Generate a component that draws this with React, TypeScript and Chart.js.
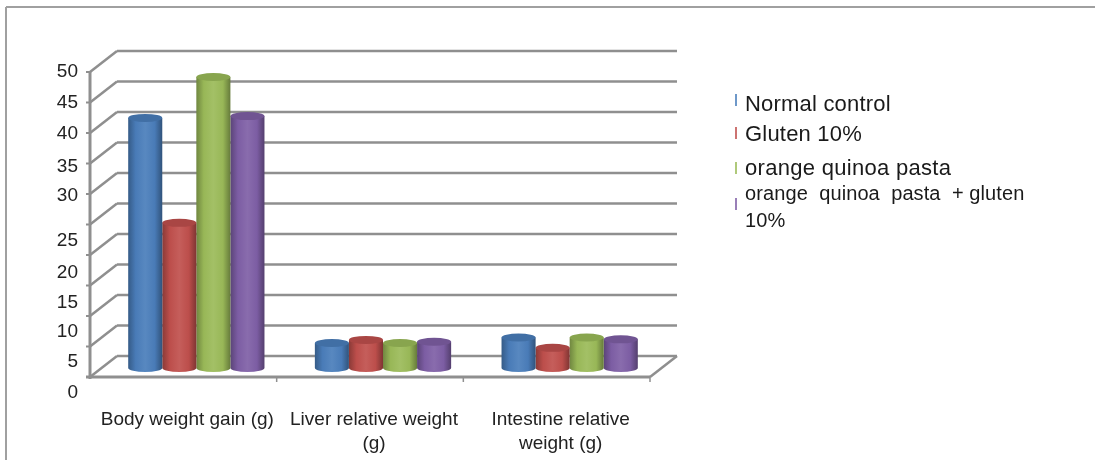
import React, { useEffect, useRef } from "react";
import { Chart, registerables } from "chart.js";

Chart.register(...registerables);

const categories = [
  "Body weight gain (g)",
  ["Liver relative weight", "(g)"],
  ["Intestine relative", "weight (g)"],
];
const normalControl = [41, 4.1, 5];
const gluten10 = [23.8, 4.6, 3.3];
const orangeQuinoaPasta = [47.7, 4.1, 5];
const orangeQuinoaGluten = [41.3, 4.3, 4.7];
const seriesNames = ["Normal control", "Gluten 10%", "orange quinoa pasta", "orange  quinoa  pasta  + gluten 10%"];
const seriesColors = ["#4a7ebb", "#c0504d", "#9bbb59", "#7f5fa6"];
const tickValues = [0, 5, 10, 15, 20, 25, 30, 35, 40, 45, 50];
const tickLabelDrop = [16, 15.5, 16, 17.5, 18, 16.5, 2, 3.5, 1, 0.5, 0];

const WALL = "#8f8f8f";
const DEPTH_X = 27;
const DEPTH_Y = 21;
const BAR_SHIFT_X = 13;
const BAR_SHIFT_Y = 9;
const UNIT_PX = 6.1;

function shade(hex: string, f: number) {
  const n = parseInt(hex.slice(1), 16);
  const c = [n >> 16, (n >> 8) & 255, n & 255].map((v) =>
    Math.round(f < 1 ? v * f : v + (255 - v) * (f - 1)),
  );
  return `rgb(${c[0]},${c[1]},${c[2]})`;
}

// Frame, back wall, side wall and floor of the 3-D box.
const boxPlugin = {
  id: "box",
  beforeDatasetsDraw(chart: any) {
    const { ctx, chartArea, scales } = chart;
    const y = scales.y;
    const left = chartArea.left;
    const right = chartArea.right;
    const line = (x1: number, y1: number, x2: number, y2: number, w = 2.5, col = WALL) => {
      ctx.strokeStyle = col;
      ctx.lineWidth = w;
      ctx.beginPath();
      ctx.moveTo(x1, y1);
      ctx.lineTo(x2, y2);
      ctx.stroke();
    };
    ctx.save();
    line(6, 7, 1095, 7, 2, "#a0a0a0");
    line(6, 7, 6, 460, 2, "#a0a0a0");
    tickValues.forEach((v) => {
      const p = y.getPixelForValue(v);
      line(left, p, left + DEPTH_X, p - DEPTH_Y, 2.5);
      line(left + DEPTH_X, p - DEPTH_Y, right + DEPTH_X, p - DEPTH_Y, 2.5);
      line(left - 4, p, left, p, 2);
    });
    const y0 = y.getPixelForValue(0);
    const y50 = y.getPixelForValue(50);
    line(left, y50, left, y0 + 2, 3);
    line(left - 4, y0, right, y0, 3);
    line(right, y0, right + DEPTH_X, y0 - DEPTH_Y, 2.5);
    const step = (right - left) / categories.length;
    for (let i = 1; i <= categories.length; i++) {
      line(left + step * i, y0, left + step * i, y0 + 5, 1.5);
    }
    ctx.restore();
  },
};

// Replaces each flat bar with a shaded cylinder standing mid-depth on the floor.
const cylinderPlugin = {
  id: "cylinder",
  beforeDatasetDraw(chart: any, args: any) {
    const { ctx } = chart;
    const color = chart.data.datasets[args.index].backgroundColor;
    const zero = chart.scales.y.getPixelForValue(0);
    args.meta.data.forEach((bar: any) => {
      const cx = bar.x + BAR_SHIFT_X;
      const rx = bar.width / 2;
      const ry = 4;
      const top = bar.y - BAR_SHIFT_Y;
      const bottom = zero - BAR_SHIFT_Y;
      const g = ctx.createLinearGradient(cx - rx, 0, cx + rx, 0);
      g.addColorStop(0, shade(color, 0.72));
      g.addColorStop(0.22, shade(color, 0.98));
      g.addColorStop(0.5, shade(color, 1.08));
      g.addColorStop(0.78, shade(color, 0.98));
      g.addColorStop(1, shade(color, 0.66));
      ctx.save();
      ctx.fillStyle = g;
      ctx.beginPath();
      ctx.moveTo(cx - rx, top);
      ctx.lineTo(cx - rx, bottom);
      ctx.ellipse(cx, bottom, rx, ry, 0, Math.PI, 0, true);
      ctx.lineTo(cx + rx, top);
      ctx.closePath();
      ctx.fill();
      ctx.fillStyle = shade(color, 0.88);
      ctx.beginPath();
      ctx.ellipse(cx, top, rx, ry, 0, 0, Math.PI * 2);
      ctx.fill();
      ctx.restore();
    });
    return false;
  },
};

const legendRows = [
  { top: 90, marker: 94, size: 22, spacing: 0.2 },
  { top: 120, marker: 127, size: 22, spacing: 0.2 },
  { top: 154, marker: 162, size: 22, spacing: 0.3 },
  { top: 180, marker: 198, size: 20, spacing: 0.1 },
];

export default function App() {
  const ref = useRef<HTMLCanvasElement>(null);
  useEffect(() => {
    const series = [normalControl, gluten10, orangeQuinoaPasta, orangeQuinoaGluten];
    const chart = new Chart(ref.current!, {
      type: "bar",
      data: {
        labels: categories as any,
        datasets: series.map((data, i) => ({
          label: seriesNames[i],
          data,
          backgroundColor: seriesColors[i],
        })),
      },
      plugins: [boxPlugin, cylinderPlugin],
      options: {
        responsive: false,
        animation: false,
        layout: { padding: { left: 0, right: 445, top: 72, bottom: 0 } },
        plugins: { legend: { display: false }, tooltip: { enabled: false } },
        datasets: { bar: { categoryPercentage: 0.73, barPercentage: 1 } },
        scales: {
          x: {
            grid: { display: false, drawTicks: false },
            border: { display: false },
            afterFit: (s: any) => {
              s.height = 67;
            },
            ticks: {
              color: "#222",
              padding: 14,
              labelOffset: 4,
              maxRotation: 0,
              autoSkip: false,
              font: { family: "'Liberation Sans'", size: 19, lineHeight: 1.3 },
            },
          },
          y: {
            min: -16 / UNIT_PX,
            max: 50,
            grid: { display: false, drawTicks: false },
            border: { display: false },
            afterFit: (s: any) => {
              s.width = 90;
            },
            afterBuildTicks: (s: any) => {
              s.ticks = tickValues.map((v, i) => ({ value: v - tickLabelDrop[i] / UNIT_PX }));
            },
            ticks: {
              color: "#222",
              padding: 12,
              autoSkip: false,
              callback: (_v: any, i: number) => String(tickValues[i]),
              font: { family: "'Liberation Sans'", size: 19 },
            },
          },
        },
      },
    });
    return () => chart.destroy();
  }, []);

  return (
    <div style={{ position: "absolute", left: 0, top: 0, width: 1095, height: 460, overflow: "hidden" }}>
      <canvas ref={ref} width={1095} height={460} style={{ display: "block" }} />
      {legendRows.map((r, i) => (
        <React.Fragment key={i}>
          <div
            style={{
              position: "absolute",
              left: 735,
              top: r.marker,
              width: 2,
              height: 12,
              background: seriesColors[i],
              opacity: 0.8,
            }}
          />
          <div
            style={{
              position: "absolute",
              left: 745,
              top: r.top,
              width: 290,
              fontFamily: "'Liberation Sans'",
              fontSize: r.size,
              letterSpacing: r.spacing,
              lineHeight: "27px",
              color: "#1a1a1a",
              whiteSpace: "pre-wrap",
            }}
          >
            {seriesNames[i]}
          </div>
        </React.Fragment>
      ))}
    </div>
  );
}
